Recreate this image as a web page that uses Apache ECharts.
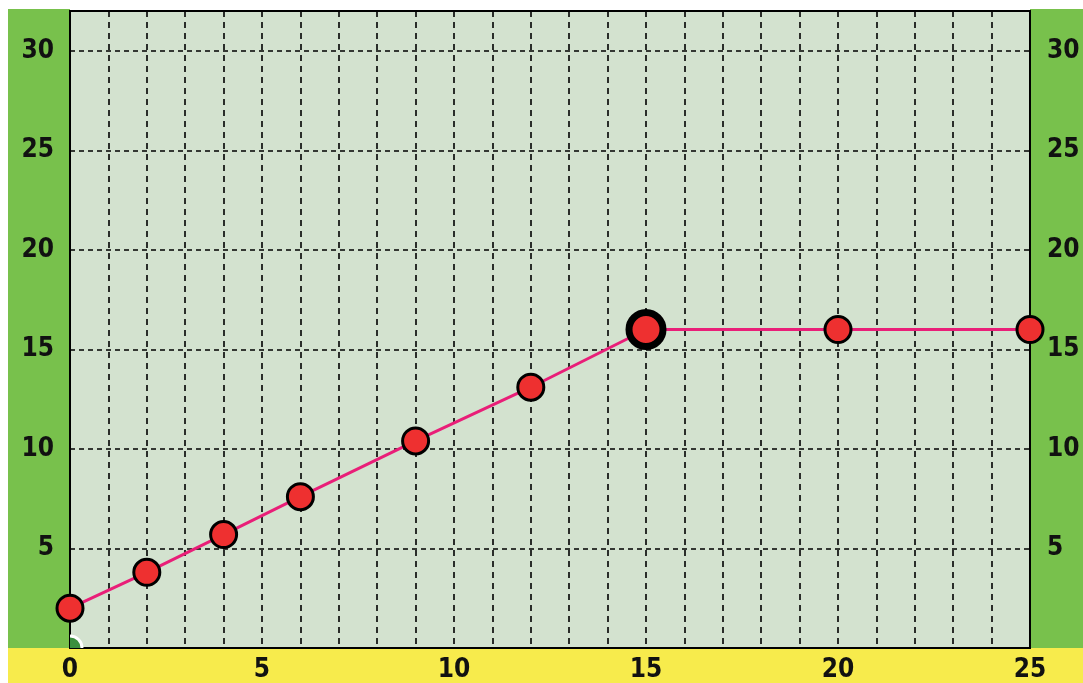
<!DOCTYPE html>
<html>
<head>
<meta charset="utf-8">
<script src="https://cdn.jsdelivr.net/npm/echarts@6/dist/echarts.min.js"></script>
<style>
  html, body { margin: 0; padding: 0; background: #fff; }
  #chartdiv { width: 1083px; height: 683px; }
</style>
</head>
<body>
<div id="chartdiv"></div>
<script>
// values
var xValues = [0, 2, 4, 6, 9, 12, 15, 20, 25];
var yValues = [2.0, 3.8, 5.7, 7.6, 10.4, 13.1, 16.0, 16.0, 16.0];
var bigPointX = 15;          // drawn larger, heavy outline
var originMarker = [[0, 0]]; // small marker half hidden at the corner

var points = xValues.map(function(x, i) {
    var p = { value: [x, yValues[i]] };
    if (x === bigPointX) {
        p.symbolSize = 34;
        p.itemStyle = { borderWidth: 7 };
    }
    return p;
});

var labelFont = {
    color: '#111',
    fontFamily: '"DejaVu Sans Condensed", "Liberation Sans Narrow", sans-serif',
    fontWeight: 'bold',
    fontSize: 26
};

var dashed = { color: '#000', type: [6, 5], width: 1.6 };

function yLabel(v) {
    return v % 5 === 0 && v > 0 ? String(v) : '';
}

var options = {
    animation: false,
    backgroundColor: '#fff',
    graphic: [
        // green side bands and yellow bottom band
        { type: 'rect', z: -10, shape: { x: 8, y: 9, width: 62, height: 640 }, style: { fill: '#78c14c' } },
        { type: 'rect', z: -10, shape: { x: 1030, y: 9, width: 53, height: 640 }, style: { fill: '#78c14c' } },
        { type: 'rect', z: -10, shape: { x: 8, y: 648, width: 1075, height: 35 }, style: { fill: '#f7eb4c' } }
    ],
    grid: {
        left: 70,
        right: 53,
        top: 11,
        bottom: 35,
        show: true,
        backgroundColor: '#d3e2cf',
        borderColor: '#000',
        borderWidth: 2
    },
    xAxis: {
        type: 'value',
        min: 0,
        max: 25,
        interval: 5,
        axisLine: { show: false },
        axisTick: { show: false },
        axisLabel: Object.assign({ margin: 9 }, labelFont),
        splitLine: { show: true, lineStyle: dashed },
        minorTick: { show: false, splitNumber: 5 },
        minorSplitLine: { show: true, lineStyle: dashed }
    },
    yAxis: [
        {
            type: 'value',
            position: 'left',
            min: 0,
            max: 32,
            interval: 5,
            axisLine: { show: false },
            axisTick: { show: false },
            axisLabel: Object.assign({ margin: 16, showMinLabel: false, showMaxLabel: false, formatter: yLabel }, labelFont),
            splitLine: { show: true, lineStyle: { color: '#000', type: [5, 4], width: 1.6 } }
        },
        {
            type: 'value',
            position: 'right',
            min: 0,
            max: 32,
            interval: 5,
            axisLine: { show: false },
            axisTick: { show: false },
            axisLabel: Object.assign({ margin: 17, showMinLabel: false, showMaxLabel: false, formatter: yLabel }, labelFont),
            splitLine: { show: false }
        }
    ],
    series: [
        {
            // origin marker, clipped to the plot area
            type: 'custom',
            data: originMarker,
            clip: true,
            z: 1,
            renderItem: function(params, api) {
                var c = api.coord([api.value(0), api.value(1)]);
                return {
                    type: 'circle',
                    shape: { cx: c[0], cy: c[1], r: 12 },
                    style: { fill: '#3a8f3e', stroke: '#fff', lineWidth: 3 }
                };
            }
        },
        {
            type: 'line',
            data: points,
            symbol: 'circle',
            symbolSize: 26,
            showAllSymbol: true,
            clip: false,
            lineStyle: { color: '#e91e78', width: 3 },
            itemStyle: { color: '#ee3030', borderColor: '#000', borderWidth: 3, opacity: 1 },
            z: 3
        }
    ]
};

var plot = echarts.init(document.getElementById('chartdiv'));
plot.setOption(options);
</script>
</body>
</html>
